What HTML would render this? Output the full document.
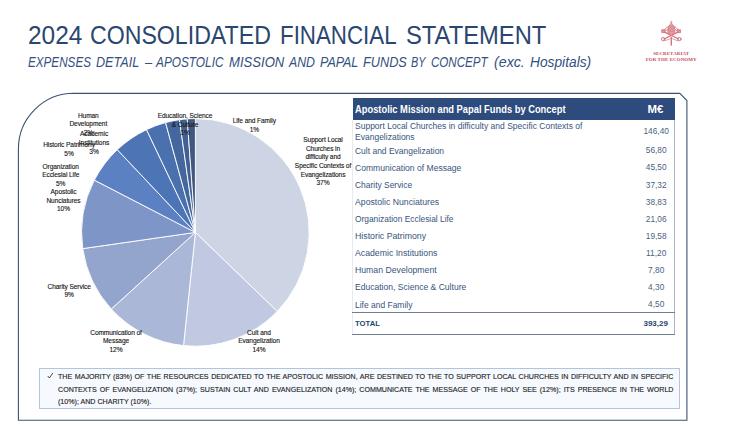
<!DOCTYPE html>
<html><head><meta charset="utf-8"><title>2024 Consolidated Financial Statement</title>
<style>
html,body{margin:0;padding:0;background:#fff;}
body{width:750px;height:422px;position:relative;overflow:hidden;font-family:"Liberation Sans",sans-serif;}
.abs{position:absolute;white-space:nowrap;}
#title{left:27.2px;top:20.6px;font-size:25.4px;line-height:28px;color:#2b4670;transform-origin:0 0;transform:scaleX(0.932);}
#sub{left:28.2px;top:53.2px;font-size:13.9px;line-height:16px;font-style:italic;color:#34507f;transform-origin:0 0;transform:scaleX(0.928);}
.tw{font-size:25.4px;line-height:28px;color:#2b4670;transform-origin:0 0;}
.sw{font-size:13.9px;line-height:16px;font-style:italic;color:#34507f;transform-origin:0 0;}
#frame{position:absolute;left:0;top:0;}
#pie{position:absolute;left:0;top:0;}
#pie text{font-family:"Liberation Sans",sans-serif;font-size:6.6px;fill:#161616;stroke:#161616;stroke-width:0.12px;text-anchor:middle;letter-spacing:-0.1px;}
#thead{position:absolute;left:352.5px;top:98px;width:322px;height:21.6px;background:#2d4b7c;color:#fff;font-weight:bold;font-size:10.2px;}
#thead .l{position:absolute;left:2.7px;top:0.7px;line-height:21.6px;white-space:nowrap;transform-origin:0 50%;transform:scaleX(0.916);}
#thead .v{position:absolute;left:283.5px;width:39px;text-align:center;top:0.7px;line-height:21.6px;transform:scaleX(1.12);}
#tbody{position:absolute;left:352px;top:119.6px;width:323.2px;height:215.30px;border-left:1px solid #e6ebf2;border-right:1px solid #a9b3c4;box-sizing:border-box;}
.row{position:absolute;left:352.5px;width:322.5px;font-size:9.6px;color:#38557d;}
.row .l{position:absolute;left:2.6px;top:0.3px;transform:scaleX(0.887);height:100%;display:flex;align-items:center;white-space:nowrap;line-height:11.3px;transform-origin:0 50%;}
.row .v{position:absolute;left:284.2px;width:39px;top:0;height:100%;display:flex;align-items:center;justify-content:center;font-size:8.3px;color:#4b5f80;}
#tot{position:absolute;left:352px;top:312.15px;width:323.2px;height:22.8px;border-top:1.1px solid #707d95;border-bottom:1.1px solid #707d95;box-sizing:border-box;font-weight:bold;font-size:8.0px;color:#27446f;}
#tot .l{position:absolute;left:3.4px;top:0px;line-height:21px;transform:scaleX(0.96);transform-origin:0 50%;}
#tot .v{position:absolute;left:284.2px;width:39px;text-align:center;top:0px;line-height:21px;font-size:8.0px;}
#note{position:absolute;left:39.0px;top:368.1px;width:640.7px;height:40.6px;box-sizing:border-box;border:1px solid #b4c4dc;background:#f6faff;}
#note .ck{position:absolute;left:0;top:0;}
#note .t{position:absolute;left:18.0px;top:2.0px;-webkit-text-stroke:0.14px #1c1c1c;width:666.1px;transform:scaleX(0.924);transform-origin:0 0;font-size:7.7px;line-height:12.75px;color:#1f1f1f;}
#note .t div{position:absolute;left:0;width:100%;white-space:nowrap;text-align:justify;text-align-last:justify;height:12px;line-height:12px;}
#n1{top:0px;}#n2{top:13px;}#n3{top:25px;}
#note .t div.last{text-align-last:left;text-align:left;}
#logotxt{position:absolute;left:621.2px;top:51.4px;width:100px;text-align:center;font-family:"Liberation Serif",serif;font-weight:bold;font-size:4.95px;line-height:6.25px;color:#bf4e5b;letter-spacing:0.1px;}
</style></head><body>
<span class="abs tw" style="left:27.70px;top:20.6px;transform:scaleX(0.9626)">2024</span>
<span class="abs tw" style="left:90.40px;top:20.6px;transform:scaleX(0.9113)">CONSOLIDATED</span>
<span class="abs tw" style="left:280.00px;top:20.6px;transform:scaleX(0.8793)">FINANCIAL</span>
<span class="abs tw" style="left:405.70px;top:20.6px;transform:scaleX(0.9353)">STATEMENT</span>
<span class="abs sw" style="left:27.70px;top:53.6px;transform:scaleX(0.8409)">EXPENSES</span>
<span class="abs sw" style="left:96.00px;top:53.6px;transform:scaleX(0.9074)">DETAIL</span>
<span class="abs sw" style="left:144.63px;top:53.6px;transform:scaleX(0.9259)">–</span>
<span class="abs sw" style="left:156.29px;top:53.6px;transform:scaleX(0.8511)">APOSTOLIC</span>
<span class="abs sw" style="left:228.50px;top:53.6px;transform:scaleX(0.9433)">MISSION</span>
<span class="abs sw" style="left:289.32px;top:53.6px;transform:scaleX(0.8860)">AND</span>
<span class="abs sw" style="left:319.90px;top:53.6px;transform:scaleX(0.8961)">PAPAL</span>
<span class="abs sw" style="left:362.80px;top:53.6px;transform:scaleX(0.9168)">FUNDS</span>
<span class="abs sw" style="left:411.30px;top:53.6px;transform:scaleX(0.7839)">BY</span>
<span class="abs sw" style="left:430.80px;top:53.6px;transform:scaleX(0.8328)">CONCEPT</span>
<span class="abs sw" style="left:493.50px;top:53.6px;transform:scaleX(1.0235)">(exc.</span>
<span class="abs sw" style="left:529.70px;top:53.6px;transform:scaleX(0.9905)">Hospitals)</span>

<svg id="frame" width="750" height="422" viewBox="0 0 750 422">
<path d="M74,93.4 L679.8,93.4 L686.9,100.5 L686.9,420.3 L18.4,420.3 L18.4,148.9 A55.6,55.6 0 0 1 74,93.3 Z" fill="none" stroke="#3d5272" stroke-width="1.1"/>
</svg>

<svg id="pie" width="750" height="422" viewBox="0 0 750 422">
<path d="M195.40,232.40 L195.40,118.60 A113.8,113.8 0 0 1 277.25,311.46 Z" fill="#cdd5e4" stroke="#ffffff" stroke-width="0.9" stroke-linejoin="round"/>
<path d="M195.40,232.40 L277.25,311.46 A113.8,113.8 0 0 1 183.50,345.58 Z" fill="#c0c9e1" stroke="#ffffff" stroke-width="0.9" stroke-linejoin="round"/>
<path d="M195.40,232.40 L183.50,345.58 A113.8,113.8 0 0 1 111.30,309.06 Z" fill="#aab7d7" stroke="#ffffff" stroke-width="0.9" stroke-linejoin="round"/>
<path d="M195.40,232.40 L111.30,309.06 A113.8,113.8 0 0 1 82.76,248.61 Z" fill="#94a5cd" stroke="#ffffff" stroke-width="0.9" stroke-linejoin="round"/>
<path d="M195.40,232.40 L82.76,248.61 A113.8,113.8 0 0 1 94.32,180.11 Z" fill="#7e95c7" stroke="#ffffff" stroke-width="0.9" stroke-linejoin="round"/>
<path d="M195.40,232.40 L94.32,180.11 A113.8,113.8 0 0 1 117.25,149.67 Z" fill="#5b81c2" stroke="#ffffff" stroke-width="0.9" stroke-linejoin="round"/>
<path d="M195.40,232.40 L117.25,149.67 A113.8,113.8 0 0 1 146.50,129.64 Z" fill="#4d75b6" stroke="#ffffff" stroke-width="0.9" stroke-linejoin="round"/>
<path d="M195.40,232.40 L146.50,129.64 A113.8,113.8 0 0 1 165.57,122.58 Z" fill="#4a70ae" stroke="#ffffff" stroke-width="0.9" stroke-linejoin="round"/>
<path d="M195.40,232.40 L165.57,122.58 A113.8,113.8 0 0 1 179.45,119.72 Z" fill="#45679f" stroke="#ffffff" stroke-width="0.9" stroke-linejoin="round"/>
<path d="M195.40,232.40 L179.45,119.72 A113.8,113.8 0 0 1 187.23,118.89 Z" fill="#426094" stroke="#ffffff" stroke-width="0.9" stroke-linejoin="round"/>
<path d="M195.40,232.40 L187.23,118.89 A113.8,113.8 0 0 1 195.40,118.60 Z" fill="#40577f" stroke="#ffffff" stroke-width="0.9" stroke-linejoin="round"/>
<g>
<text x="88.3" y="117.8">Human</text>
<text x="88.3" y="126.3">Development</text>
<text x="88.3" y="134.9">2%</text>
<text x="94.0" y="136.4">Academic</text>
<text x="94.0" y="145.0">Institutions</text>
<text x="94.0" y="153.5">3%</text>
<text x="69.0" y="147.4">Historic Patrimony</text>
<text x="69.0" y="156.0">5%</text>
<text x="60.7" y="168.6">Organization</text>
<text x="60.7" y="177.2">Ecclesial Life</text>
<text x="60.7" y="185.7">5%</text>
<text x="63.5" y="194.0">Apostolic</text>
<text x="63.5" y="202.6">Nunciatures</text>
<text x="63.5" y="211.1">10%</text>
<text x="69.2" y="288.9">Charity Service</text>
<text x="69.2" y="297.4">9%</text>
<text x="116.0" y="334.9">Communication of</text>
<text x="116.0" y="343.4">Message</text>
<text x="116.0" y="352.0">12%</text>
<text x="259.0" y="334.9">Cult and</text>
<text x="259.0" y="343.4">Evangelization</text>
<text x="259.0" y="352.0">14%</text>
<text x="185.0" y="118.0">Education, Science</text>
<text x="185.0" y="126.5">&amp; Culture</text>
<text x="185.0" y="135.1">1%</text>
<text x="254.3" y="123.1">Life and Family</text>
<text x="254.3" y="131.7">1%</text>
<text x="323.0" y="142.3">Support Local</text>
<text x="323.0" y="150.9">Churches in</text>
<text x="323.0" y="159.4">difficulty and</text>
<text x="323.0" y="168.0">Specific Contexts of</text>
<text x="323.0" y="176.5">Evangelizations</text>
<text x="323.0" y="185.1">37%</text>
</g>
</svg>

<div id="thead"><span class="l">Apostolic Mission and Papal Funds by Concept</span><span class="v">M€</span></div>
<div id="tbody"></div>
<div class="row two" style="top:119.30px;height:22.6px"><span class="l" style="transform:scaleX(0.8870)">Support Local Churches in difficulty and Specific Contexts of<br>Evangelizations</span><span class="v">146,40</span></div>
<div class="row" style="top:141.90px;height:17.05px"><span class="l" style="transform:scaleX(0.8835)">Cult and Evangelization</span><span class="v">56,80</span></div>
<div class="row" style="top:158.95px;height:17.05px"><span class="l" style="transform:scaleX(0.8941)">Communication of Message</span><span class="v">45,50</span></div>
<div class="row" style="top:176.00px;height:17.05px"><span class="l" style="transform:scaleX(0.8781)">Charity Service</span><span class="v">37,32</span></div>
<div class="row" style="top:193.05px;height:17.05px"><span class="l" style="transform:scaleX(0.9065)">Apostolic Nunciatures</span><span class="v">38,83</span></div>
<div class="row" style="top:210.10px;height:17.05px"><span class="l" style="transform:scaleX(0.8710)">Organization Ecclesial Life</span><span class="v">21,06</span></div>
<div class="row" style="top:227.15px;height:17.05px"><span class="l" style="transform:scaleX(0.9136)">Historic Patrimony</span><span class="v">19,58</span></div>
<div class="row" style="top:244.20px;height:17.05px"><span class="l" style="transform:scaleX(0.9083)">Academic Institutions</span><span class="v">11,20</span></div>
<div class="row" style="top:261.25px;height:17.05px"><span class="l" style="transform:scaleX(0.9065)">Human Development</span><span class="v">7,80</span></div>
<div class="row" style="top:278.30px;height:17.05px"><span class="l" style="transform:scaleX(0.8914)">Education, Science &amp; Culture</span><span class="v">4,30</span></div>
<div class="row" style="top:295.35px;height:17.05px"><span class="l" style="transform:scaleX(0.8826)">Life and Family</span><span class="v">4,50</span></div>
<div id="tot"><span class="l">TOTAL</span><span class="v">393,29</span></div>

<div id="note"><svg class="ck" width="30" height="20" viewBox="0 0 30 20"><path d="M8.0,7.3 L9.4,9.0 L12.6,4.4" fill="none" stroke="#2a2a2a" stroke-width="0.85" stroke-linecap="round" stroke-linejoin="round"/></svg><div class="t"><div id="n1">THE MAJORITY (83%) OF THE RESOURCES DEDICATED TO THE APOSTOLIC MISSION, ARE DESTINED TO THE TO SUPPORT LOCAL CHURCHES IN DIFFICULTY AND IN SPECIFIC</div><div id="n2">CONTEXTS OF EVANGELIZATION (37%); SUSTAIN CULT AND EVANGELIZATION (14%); COMMUNICATE THE MESSAGE OF THE HOLY SEE (12%); ITS PRESENCE IN THE WORLD</div><div class="last" id="n3">(10%); AND CHARITY (10%).</div></div></div>

<svg id="logo" style="position:absolute;left:0;top:0" width="750" height="70" viewBox="0 0 750 70">
<g fill="none" stroke="#d06872" stroke-linecap="round" stroke-linejoin="round" opacity="0.92">
<!-- keys -->
<path d="M664.2,31.8 L678.6,39.0" stroke-width="1.3"/>
<path d="M678.4,31.8 L664.0,39.0" stroke-width="1.3"/>
<!-- bits -->
<path d="M662.0,29.8 h3.0 v2.8 h-3.0 z M677.6,29.8 h3.0 v2.8 h-3.0 z" stroke-width="0.8" fill="#dd8a91"/>
<!-- shoulders -->
<path d="M668.2,26.8 C666.8,27.2 665.6,28.2 664.8,29.6 M674.4,26.8 C675.8,27.2 677.0,28.2 677.8,29.6" stroke-width="1.0"/>
<path d="M667.6,29.4 L665.6,30.8 M675.0,29.4 L677.0,30.8" stroke-width="0.9"/>
<!-- bows -->
<circle cx="663.2" cy="39.1" r="1.7" stroke-width="1.0"/>
<circle cx="679.4" cy="39.1" r="1.7" stroke-width="1.0"/>
<!-- cord -->
<path d="M664.6,40.6 C667.5,40.2 670.2,39.0 671.3,37.6 C672.4,39.0 675.1,40.2 678.0,40.6" stroke-width="0.7"/>
<path d="M671.3,37.6 L671.3,45.0" stroke-width="1.4"/>
<!-- tiara cross -->
<path d="M671.3,21.2 L671.3,23.6 M670.4,22.2 L672.2,22.2" stroke-width="0.6"/>
</g>
<!-- tiara -->
<path d="M667.9,33.2 C667.2,28.6 668.8,24.8 671.3,23.2 C673.8,24.8 675.4,28.6 674.7,33.2 C672.6,34.0 670.0,34.0 667.9,33.2 Z" fill="#e3999f" stroke="#cf6670" stroke-width="0.6" opacity="0.95"/>
<path d="M668.4,26.6 H674.2 M667.9,28.8 H674.7 M667.8,31.0 H674.8" stroke="#cf6670" stroke-width="0.55" fill="none" opacity="0.85"/>
</svg>
<div id="logotxt"><div style="position:absolute;left:0;width:100%;top:-0.2px">SECRETARIAT</div><div style="position:absolute;left:0;width:100%;top:5.8px">FOR THE ECONOMY</div></div>
</body></html>
